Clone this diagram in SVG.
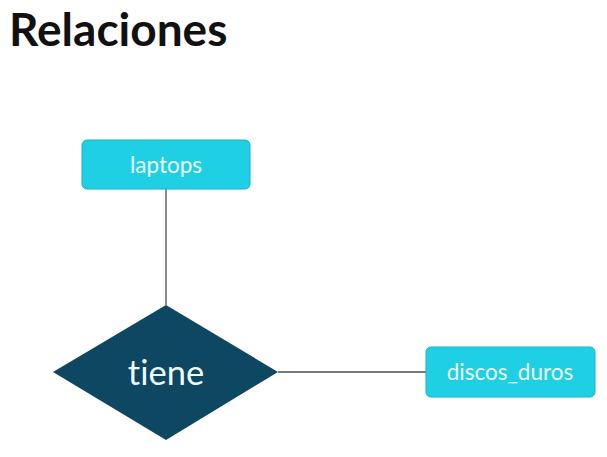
<svg xmlns="http://www.w3.org/2000/svg" width="607" height="457" viewBox="0 0 607 457">
<style>
.ent{fill:#1fd0e5;stroke:#17b3c6;stroke-width:1}
.lbl{font-family:Lato,"Open Sans",sans-serif;fill:#eefcff;text-anchor:middle;font-variant-ligatures:none}
.conn{stroke:#4a4f57;stroke-width:1.3;fill:none}
</style>
<rect width="607" height="457" fill="#ffffff"/>
<text x="9" y="46" font-family="Lato,'Open Sans',sans-serif" font-weight="bold" font-size="46" fill="#111">Relaciones</text>
<g id="connectors">
<line class="conn" x1="166" y1="189" x2="166" y2="305"/>
<line class="conn" x1="278" y1="372" x2="426" y2="372"/>
</g>
<g id="laptops">
<rect class="ent" x="82" y="140" width="168" height="49" rx="5"/>
<text class="lbl" x="166" y="173" font-size="22.5">laptops</text>
</g>
<g id="tiene">
<polygon points="166,305 278,372 166,440 53,372" fill="#0d4762"/>
<text class="lbl" x="166" y="385" font-size="34.5" fill="#f2f6f8">tiene</text>
</g>
<g id="discos_duros">
<rect class="ent" x="426" y="347" width="169" height="50" rx="5"/>
<text class="lbl" x="510" y="380" font-size="22.5">discos_duros</text>
</g>
</svg>
